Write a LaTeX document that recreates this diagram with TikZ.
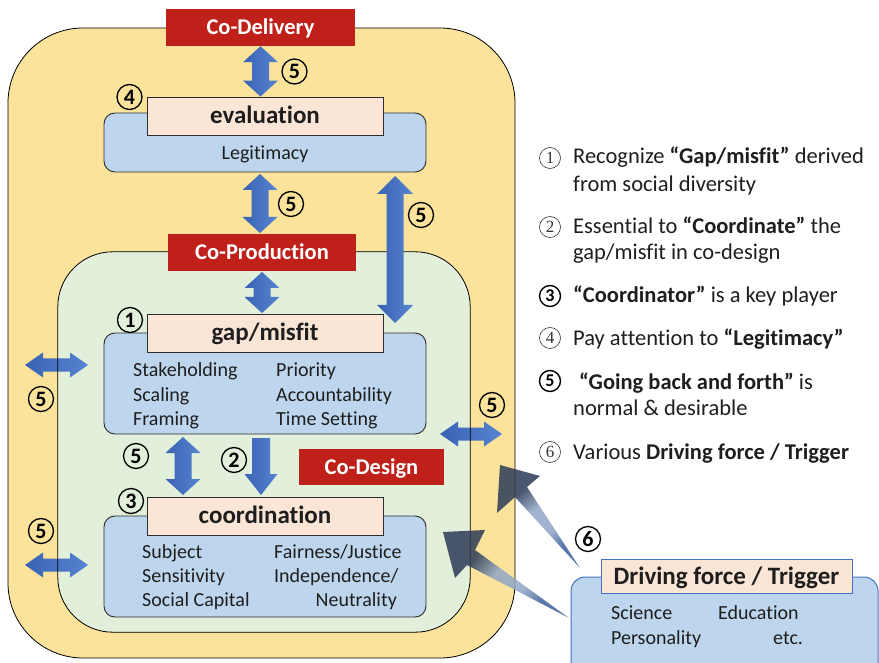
\documentclass[tikz,border=0pt]{standalone}
\usepackage{fontspec}
\setmainfont{Carlito}[Ligatures=NoCommon]
\newfontfamily\numfont{Liberation Serif}
\usetikzlibrary{calc}
\newcommand\fsz[1]{\fontsize{#1}{#1}\selectfont}
\definecolor{outerfill}{RGB}{251,227,155}
\definecolor{innerfill}{RGB}{226,239,218}
\definecolor{boxblue}{RGB}{189,214,237}
\definecolor{headpink}{RGB}{251,229,214}
\definecolor{stagered}{RGB}{191,33,26}
\definecolor{flowdark}{RGB}{58,98,180}
\definecolor{flowlight}{RGB}{86,132,208}
\definecolor{edgegray}{RGB}{45,45,45}
\definecolor{inkgray}{RGB}{30,30,30}
\definecolor{driveedge}{RGB}{68,114,196}
\definecolor{pushdark}{RGB}{44,58,86}
\definecolor{pushmid}{RGB}{145,166,198}
\definecolor{pushtail}{RGB}{62,96,156}

% colour run of the push arrows: blue tail, pale middle, dark head
\pgfdeclareverticalshading{pushshade}{100bp}{%
  color(0bp)=(pushtail); color(30bp)=(pushtail); color(40bp)=(pushmid);
  color(54bp)=(pushmid); color(66bp)=(pushdark); color(100bp)=(pushdark)}

\tikzset{
  stagebox/.style={fill=stagered, text=white, font=\bfseries\fsz{22.5}, inner sep=0,
    text height=15pt, text depth=0pt},
  topicbox/.style={fill=boxblue, draw=edgegray, line width=0.9pt, rounded corners=11pt,
    inner sep=0, minimum width=322pt},
  topichead/.style={fill=headpink, draw=edgegray, line width=0.9pt, inner sep=0,
    minimum width=236pt, minimum height=38pt, font=\bfseries\fsz{25},
    text height=15.5pt, text depth=0pt, text=inkgray},
  itemtext/.style={anchor=base west, inner sep=0, font=\fsz{20}, text=inkgray},
  cnum/.style={circle, draw=black, line width=1.3pt, minimum size=25pt, inner sep=0,
    font=\bfseries\fsz{22}, text=black},
  lnum/.style={circle, draw=black!80, line width=0.6pt, minimum size=21pt, inner sep=0,
    font=\numfont\fsz{17}, text=black!80},
  lnumbold/.style={lnum, draw=black, line width=1.4pt, font=\bfseries\fsz{18}, text=black},
  listtext/.style={anchor=base west, inner sep=0, font=\fsz{22.5}, text=inkgray},
  arrowsize/.code args={#1/#2/#3}{\def\ahlen{#1}\def\ahhalf{#2}\def\ashalf{#3}},
  arrowsize=16pt/17.5pt/8.5pt,
  flowfill/.style={left color=flowdark, right color=flowlight},
  % block arrow with a head at both ends
  fatboth/.style={flowfill, to path={
    (\tikztostart)
    -- ($(\tikztostart)!\ahlen!(\tikztotarget)!\ahhalf!90:(\tikztotarget)$)
    -- ($(\tikztostart)!\ahlen!(\tikztotarget)!\ashalf!90:(\tikztotarget)$)
    -- ($(\tikztotarget)!\ahlen!(\tikztostart)!\ashalf!-90:(\tikztostart)$)
    -- ($(\tikztotarget)!\ahlen!(\tikztostart)!\ahhalf!-90:(\tikztostart)$)
    -- (\tikztotarget)
    -- ($(\tikztotarget)!\ahlen!(\tikztostart)!\ahhalf!90:(\tikztostart)$)
    -- ($(\tikztotarget)!\ahlen!(\tikztostart)!\ashalf!90:(\tikztostart)$)
    -- ($(\tikztostart)!\ahlen!(\tikztotarget)!\ashalf!-90:(\tikztotarget)$)
    -- ($(\tikztostart)!\ahlen!(\tikztotarget)!\ahhalf!-90:(\tikztotarget)$)
    -- cycle}},
  % block arrow with a single head at the target
  fatone/.style={flowfill, to path={
    ($(\tikztostart)!\ashalf!90:(\tikztotarget)$)
    -- ($(\tikztotarget)!\ahlen!(\tikztostart)!\ashalf!-90:(\tikztostart)$)
    -- ($(\tikztotarget)!\ahlen!(\tikztostart)!\ahhalf!-90:(\tikztostart)$)
    -- (\tikztotarget)
    -- ($(\tikztotarget)!\ahlen!(\tikztostart)!\ahhalf!90:(\tikztostart)$)
    -- ($(\tikztotarget)!\ahlen!(\tikztostart)!\ashalf!90:(\tikztostart)$)
    -- ($(\tikztostart)!\ashalf!-90:(\tikztotarget)$)
    -- cycle}},
  pushfill/.style={shading=pushshade, fill opacity=0.85},
}

\begin{document}
\begin{tikzpicture}[x=1pt,y=-1pt]
\useasboundingbox (0,0) rectangle (879,663);

% nested containers
\node[fill=outerfill, draw=black, line width=0.8pt, rounded corners=75pt, inner sep=0,
  minimum width=507pt, minimum height=630pt] (outer) at (261.5,343) {};
\node[fill=innerfill, rounded corners=55pt, inner sep=0,
  minimum width=412pt, minimum height=380pt] (inner) at (264,442) {};

% side exchanges that cross the inner border
\coordinate (lu1) at (25,365);  \coordinate (lu2) at (88,365);
\coordinate (ll1) at (25,565);  \coordinate (ll2) at (88,565);
\coordinate (rr1) at (440,434); \coordinate (rr2) at (502,434);
\path[fatboth, arrowsize=18pt/12.5pt/6.5pt] (lu1) to (lu2);
\path[fatboth, arrowsize=18pt/12.5pt/6.5pt] (ll1) to (ll2);
\path[fatboth, arrowsize=18pt/12.5pt/6.5pt] (rr1) to (rr2);
\draw[line width=0.8pt, rounded corners=55pt] (inner.north west) rectangle (inner.south east);

% stage labels
\node[stagebox, minimum width=189pt, minimum height=37pt] (codel) at (260.5,27.5) {Co-Delivery};
\node[stagebox, minimum width=188pt, minimum height=37pt] (coprod) at (262,252.5) {Co-Production};
\node[stagebox, minimum width=145pt, minimum height=36pt] (codes) at (371.5,467) {Co-Design};

% evaluation
\node[topicbox, minimum height=59pt] (evalbox) at (265,142.5) {};
\node[topichead] (evalhead) at (265,116) {evaluation};
\node[font=\fsz{20}, text=inkgray, anchor=base, inner sep=0] (legit) at (265,160) {Legitimacy};

% gap / misfit
\node[topicbox, minimum height=101pt] (gapbox) at (265,383.5) {};
\node[topichead] (gaphead) at (265,333) {gap/misfit};
\node[itemtext] (g1) at (133,377) {Stakeholding};
\node[itemtext] (g2) at (133,401) {Scaling};
\node[itemtext] (g3) at (133,425) {Framing};
\node[itemtext] (g4) at (276,377) {Priority};
\node[itemtext] (g5) at (276,401) {Accountability};
\node[itemtext] (g6) at (276,425) {Time Setting};

% coordination
\node[topicbox, minimum height=101pt] (coordbox) at (265,566.5) {};
\node[topichead] (coordhead) at (265,516) {coordination};
\node[itemtext] (c1) at (142,558) {Subject};
\node[itemtext] (c2) at (142,582) {Sensitivity};
\node[itemtext] (c3) at (142,606) {Social Capital};
\node[itemtext] (c4) at (274,558) {Fairness/Justice};
\node[itemtext] (c5) at (274,582) {Independence/};
\node[itemtext, anchor=base east] (c6) at (397,606) {Neutrality};

% vertical exchanges
\coordinate (a1) at (codel.south);
\coordinate (a2) at (codel.south |- evalhead.north);
\coordinate (b1) at (260,174);  \coordinate (b2) at (260,233);
\coordinate (r1) at (395,176);  \coordinate (r2) at (395,323);
\coordinate (p1) at (262,272);  \coordinate (p2) at (262,313);
\coordinate (s1) at (183,437);  \coordinate (s2) at (183,495);
\coordinate (d1) at (261,438);  \coordinate (d2) at (261,495);
\path[fatboth] (a1) to (a2);
\path[fatboth] (b1) to (b2);
\path[fatboth, arrowsize=18pt/18pt/8.5pt] (r1) to (r2);
\path[fatboth] (p1) to (p2);
\path[fatboth] (s1) to (s2);
\path[fatone, arrowsize=21pt/16.5pt/9pt] (d1) to (d2);

% circled markers
\node[cnum] (m5a) at (294.5,71.5) {5};
\node[cnum] (m4)  at (129.5,97) {4};
\node[cnum] (m5b) at (291,204) {5};
\node[cnum] (m5c) at (421,215) {5};
\node[cnum] (m1)  at (130,320) {1};
\node[cnum] (m5d) at (41,399) {5};
\node[cnum] (m5e) at (492,405) {5};
\node[cnum] (m5f) at (136,456) {5};
\node[cnum] (m2)  at (234,460) {2};
\node[cnum] (m3)  at (131,501) {3};
\node[cnum] (m5g) at (41,531) {5};
\node[cnum] (m6)  at (588,539) {6};

% legend
\node[lnum] (n1) at (550,158) {1};
\node[listtext] (t1a) at (573,164) {Recognize \textbf{“Gap/misfit”} derived};
\node[listtext] (t1b) at (573,192) {from social diversity};
\node[lnum] (n2) at (550,227) {2};
\node[listtext] (t2a) at (573,234) {Essential to \textbf{“Coordinate”} the};
\node[listtext] (t2b) at (573,260) {gap/misfit in co-design};
\node[lnumbold] (n3) at (550,296) {3};
\node[listtext] (t3) at (573,303) {\textbf{“Coordinator”} is a key player};
\node[lnum] (n4) at (550,338) {4};
\node[listtext] (t4) at (573,345) {Pay attention to \textbf{“Legitimacy”}};
\node[lnumbold] (n5) at (550,381) {5};
\node[listtext] (t5a) at (579,389) {\textbf{“Going back and forth”} is};
\node[listtext] (t5b) at (573,415) {normal \& desirable};
\node[lnum] (n6) at (550,452) {6};
\node[listtext] (t6) at (573,459) {Various \textbf{Driving force / Trigger}};

% driving force
\node[fill=boxblue, draw=driveedge, line width=1pt, rounded corners=14pt, inner sep=0,
  minimum width=307pt, minimum height=100pt] (drivebox) at (724.5,627) {};
\node[fill=headpink, draw=driveedge, line width=1pt, inner sep=0, minimum width=251pt,
  minimum height=34pt, font=\bfseries\fsz{25}, text=inkgray, text height=17pt,
  text depth=0pt] (drivehead) at (726.5,576) {Driving force / Trigger};
\node[itemtext] (dv1) at (611,619) {Science};
\node[itemtext] (dv2) at (718,619) {Education};
\node[itemtext] (dv3) at (611,644) {Personality};
\node[itemtext] (dv4) at (773,644) {etc.};

% tapered push arrows from the driving force
\coordinate (u0) at (580,568); \coordinate (u1) at (515,497); \coordinate (u2) at (497,513);
\coordinate (u3) at (500,465); \coordinate (u4) at (540,476); \coordinate (u5) at (527,487);
\shade[pushfill, shading angle=38] (u0) -- (u1) -- (u2) -- (u3) -- (u4) -- (u5) -- cycle;
\coordinate (w0) at (569,618); \coordinate (w1) at (467,565); \coordinate (w2) at (455,578);
\coordinate (w3) at (443,532); \coordinate (w4) at (485,530); \coordinate (w5) at (475,550);
\shade[pushfill, shading angle=56] (w0) -- (w1) -- (w2) -- (w3) -- (w4) -- (w5) -- cycle;
\end{tikzpicture}
\end{document}
